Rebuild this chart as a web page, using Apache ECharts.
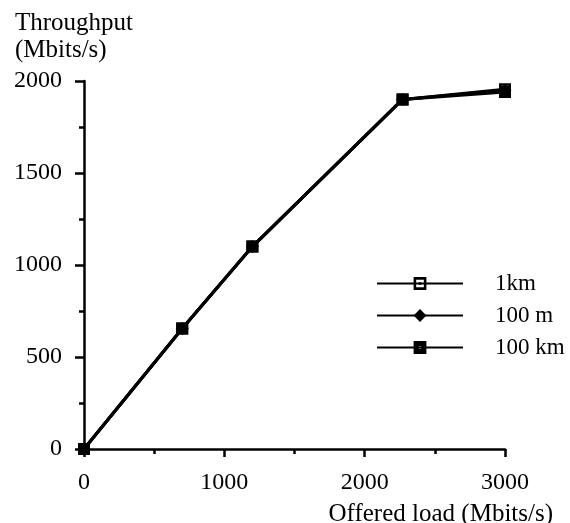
<!DOCTYPE html>
<html>
<head>
<meta charset="utf-8">
<script src="https://cdn.jsdelivr.net/npm/echarts@6/dist/echarts.min.js"></script>
<style>
  html, body { margin: 0; padding: 0; background: #fff; }
  #chart { width: 570px; height: 523px; }
</style>
</head>
<body>
<div id="chart"></div>
<script>
// data
let offeredLoad = [0, 700, 1200, 2270, 3000];
let tput1km = [0, 655, 1100, 1900, 1955];
let tput100m = [0, 655, 1100, 1900, 1950];
let tput100km = [0, 655, 1100, 1900, 1940];
let xTicks = [0, 1000, 2000, 3000];
let yTicks = [0, 500, 1000, 1500, 2000];

// marker shapes
let hollowSq = 'path://M0 0H10V10H0Z M2 2V8H8V2Z M4 4H6V6H4Z';
let filledSq = 'path://M0 0H10V10H0Z M4 4V6H6V4Z';

function pairs(ys) {
    return offeredLoad.map((x, i) => [x, ys[i]]);
}

let font = '"Liberation Serif", "Times New Roman", serif';

let chart = echarts.init(document.getElementById('chart'));

function mk(name, ys, symbol, size, z) {
    return {
        name: name,
        type: 'line',
        data: pairs(ys),
        symbol: symbol,
        symbolSize: size,
        z: z,
        lineStyle: { color: '#000', width: 3 },
        itemStyle: { color: '#000', borderWidth: 0 },
        animation: false
    };
}

chart.setOption({
    backgroundColor: '#fff',
    textStyle: { fontFamily: font, color: '#000' },
    title: [{
        text: 'Throughput\n(Mbits/s)',
        left: 10, top: 5,
        textStyle: { fontFamily: font, fontSize: 25, fontWeight: 'normal', color: '#000', lineHeight: 27 }
    }, {
        text: 'Offered load (Mbits/s)',
        right: 12, top: 497,
        textStyle: { fontFamily: font, fontSize: 25, fontWeight: 'normal', color: '#000' }
    }],
    legend: {
        orient: 'vertical',
        left: 371, top: 267,
        itemWidth: 86, itemHeight: 16, itemGap: 9,
        textStyle: { fontFamily: font, fontSize: 23, color: '#000', padding: [0, 0, 0, 27] },
        data: ['1km', '100 m', '100 km']
    },
    grid: { left: 84, right: 65, top: 81, bottom: 74 },
    xAxis: {
        type: 'value', min: 0, max: 3000, interval: 1000,
        axisLine: { lineStyle: { color: '#000', width: 2.5 } },
        axisTick: { length: 8, lineStyle: { color: '#000', width: 2.5 } },
        minorTick: { show: true, splitNumber: 2, length: 5, lineStyle: { color: '#000', width: 2.5 } },
        axisLabel: {
            fontFamily: font, fontSize: 24, color: '#000', margin: 22,
            formatter: v => xTicks.includes(v) ? String(v) : ''
        },
        splitLine: { show: false }
    },
    yAxis: {
        type: 'value', min: 0, max: 2000, interval: 500,
        axisLine: { show: true, lineStyle: { color: '#000', width: 2.5 } },
        axisTick: { show: true, length: 9, lineStyle: { color: '#000', width: 2.5 } },
        minorTick: { show: true, splitNumber: 2, length: 5, lineStyle: { color: '#000', width: 2.5 } },
        axisLabel: {
            fontFamily: font, fontSize: 24, color: '#000', margin: 22,
            formatter: v => yTicks.includes(v) ? String(v) : ''
        },
        splitLine: { show: false }
    },
    series: [
        mk('1km', tput1km, hollowSq, 12, 2),
        mk('100 m', tput100m, 'diamond', 13, 3),
        mk('100 km', tput100km, filledSq, 12, 4)
    ]
});
</script>
</body>
</html>
